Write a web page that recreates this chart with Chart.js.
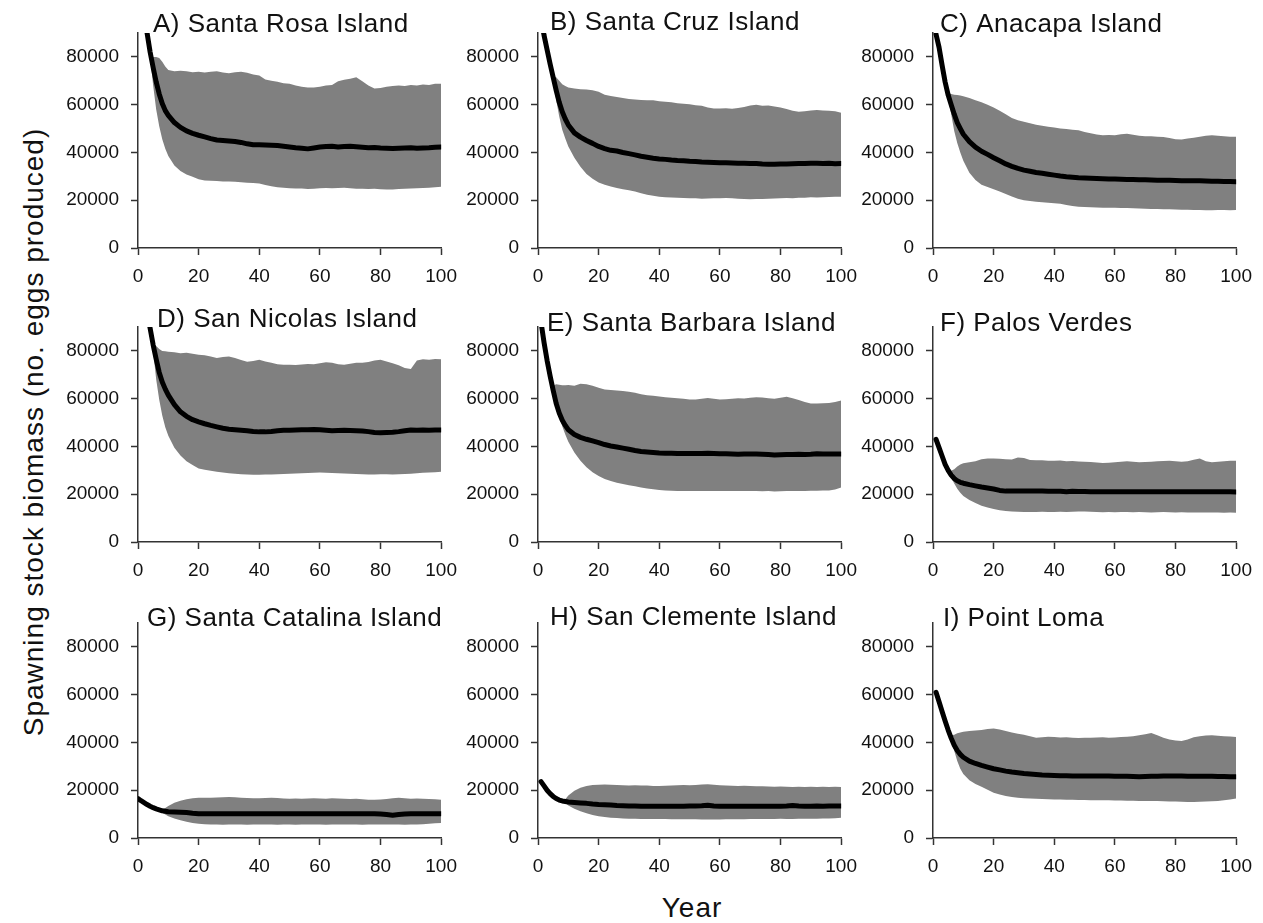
<!DOCTYPE html>
<html>
<head>
<meta charset="utf-8">
<script src="https://cdn.jsdelivr.net/npm/chart.js@4.4.0/dist/chart.umd.min.js"></script>
<style>
  body { margin: 0; background: #fff; width: 1263px; height: 923px; position: relative; overflow: hidden;
         font-family: "Liberation Sans", Arial, sans-serif; color: #111; }
  canvas { position: absolute; }
  .axis-title { position: absolute; white-space: nowrap; font-size: 28px; letter-spacing: 1px;
                transform: translate(-50%, -50%); }
  #ytitle { left: 34px; top: 432px; transform: translate(-50%, -50%) rotate(-90deg); }
  #xtitle { left: 692px; top: 908px; }
</style>
</head>
<body>
<div class="axis-title" id="ytitle">Spawning stock biomass (no. eggs produced)</div>
<div class="axis-title" id="xtitle">Year</div>
<script>
/*
 * Data (biomass in thousands of eggs)
 */
const years = [0, 1, 2, 3, 4, 5, 6, 7, 8, 9, 10,
  12, 14, 16, 18, 20, 22, 24, 26, 28, 30,
  32, 34, 36, 38, 40, 42, 44, 46, 48, 50,
  52, 54, 56, 58, 60, 62, 64, 66, 68, 70,
  72, 74, 76, 78, 80, 82, 84, 86, 88, 90,
  92, 94, 96, 98, 100];

const xTicks = [0, 20, 40, 60, 80, 100];
const yTicks = [0, 20000, 40000, 60000, 80000];

const titles = [
  "A) Santa Rosa Island", "B) Santa Cruz Island", "C) Anacapa Island",
  "D) San Nicolas Island", "E) Santa Barbara Island", "F) Palos Verdes",
  "G) Santa Catalina Island", "H) San Clemente Island", "I) Point Loma"
];

// A) Santa Rosa Island
const meanA = [null, 112, 100, 90, 82, 75.5, 69.5, 64.5, 60.5, 57.5, 55.5,
  52.5, 50.5, 49, 48, 47.2, 46.5, 45.8, 45.2, 45, 44.8,
  44.6, 44.2, 43.6, 43.2, 43.2, 43.1, 43, 42.9, 42.6, 42.3,
  42, 41.8, 41.5, 41.9, 42.3, 42.5, 42.6, 42.3, 42.5, 42.6,
  42.4, 42.2, 42, 42.1, 41.9, 41.8, 41.7, 41.8, 41.9, 42,
  41.8, 41.9, 42, 42.2, 42.3];
const upperA = [null, 112, 100, 90, 82, 80, 80, 79.5, 78, 76, 74.5,
  74, 74.2, 74, 73.6, 73.8, 73.5, 73.8, 74, 73.5, 73.2,
  73.6, 73.8, 73.4, 72.6, 72.2, 70.5, 70, 69.6, 69, 68.8,
  68, 67.5, 67.2, 67.2, 67.5, 68, 68.2, 69.8, 70.4, 70.8,
  71.5, 69.8, 68, 66.8, 67, 67.5, 67.8, 68, 67.8, 68.2,
  68, 68.4, 68.2, 68.8, 68.8];
const lowerA = [null, 112, 100, 90, 80, 68, 58, 51, 45.5, 41.5, 38.5,
  34.5, 32.2, 30.8, 29.8, 28.8, 28.3, 28.2, 28, 27.8, 27.8,
  27.7, 27.5, 27.3, 27.2, 27, 26.4, 25.8, 25.4, 25.2, 25,
  24.9, 24.9, 24.7, 24.8, 25, 25.1, 25, 25.1, 25.2, 25,
  24.8, 24.8, 24.7, 24.8, 24.6, 24.5, 24.5, 24.7, 24.8, 24.9,
  25, 25.1, 25.2, 25.4, 25.6];

// B) Santa Cruz Island
const meanB = [null, 96, 89, 83, 77, 71.5, 66, 61, 57, 54, 51.5,
  48.2, 46.4, 45, 43.8, 42.5, 41.6, 40.9, 40.6, 40, 39.5,
  39, 38.4, 38, 37.6, 37.3, 37.1, 36.8, 36.6, 36.5, 36.3,
  36.2, 36, 35.9, 35.8, 35.7, 35.7, 35.6, 35.5, 35.5, 35.4,
  35.4, 35.2, 35.1, 35.1, 35.2, 35.2, 35.3, 35.4, 35.4, 35.5,
  35.5, 35.4, 35.5, 35.3, 35.4];
const upperB = [null, 96, 89, 83, 77, 72, 71.5, 70, 68.5, 67.8, 67.2,
  66.8, 66.5, 66.3, 66, 65.4, 64.2, 63.6, 63.2, 62.8, 62.4,
  62.2, 62, 61.8, 61.8, 61.4, 61.2, 61, 60.6, 60.4, 60.2,
  59.8, 59.5, 58.8, 58.4, 58.4, 58.5, 58.3, 58.6, 59, 59.6,
  60, 59.5, 59.6, 59.2, 58.8, 58.2, 57.5, 57, 57.2, 57.6,
  57.8, 57.6, 57.5, 57.2, 56.6];
const lowerB = [null, 96, 89, 83, 77, 70, 62, 55, 49.5, 45.8, 42.5,
  37.8, 34, 31, 29, 27.4, 26.5, 25.7, 25.1, 24.6, 24.2,
  23.6, 22.9, 22.3, 21.9, 21.5, 21.2, 21.1, 21, 20.9, 20.8,
  20.8, 20.6, 20.7, 20.8, 20.8, 20.9, 20.8, 20.6, 20.5, 20.4,
  20.5, 20.5, 20.6, 20.7, 20.8, 20.9, 20.8, 21, 21, 21.2,
  21.1, 21.2, 21.3, 21.5, 21.5];

// C) Anacapa Island
const meanC = [null, 89.5, 84, 76.5, 69.5, 64, 60, 56, 52.5, 50, 47.6,
  44.5, 42.2, 40.5, 39.2, 37.8, 36.5, 35.2, 34.2, 33.3, 32.6,
  32.1, 31.6, 31.3, 30.9, 30.5, 30.1, 29.8, 29.6, 29.4, 29.3,
  29.2, 29.1, 29, 28.9, 28.9, 28.8, 28.7, 28.7, 28.6, 28.6,
  28.5, 28.4, 28.4, 28.4, 28.3, 28.2, 28.2, 28.1, 28.1, 28,
  27.9, 27.9, 27.8, 27.8, 27.7];
const upperC = [null, 89.5, 84, 76.5, 69.5, 65, 64.5, 64.2, 64, 63.8, 63.5,
  62.8, 61.8, 61, 60, 58.8, 57.5, 56, 54.4, 53.5, 52.8,
  52.2, 51.6, 51.2, 50.8, 50.4, 50, 49.8, 49.5, 49.3, 48.6,
  48, 47.5, 47.2, 47.3, 47.2, 47.6, 47.8, 47.4, 47, 46.8,
  46.8, 46.6, 46.5, 46, 45.5, 45.4, 45.8, 46.2, 46.6, 47,
  47.2, 47, 46.8, 46.6, 46.6];
const lowerC = [null, 89.5, 84, 76.5, 69.5, 62.5, 56, 49, 44, 40, 36.5,
  31.5, 28.5, 26.5, 25.5, 24.6, 23.6, 22.6, 21.6, 20.6, 20,
  19.7, 19.4, 19.1, 18.9, 18.7, 18.5, 18, 17.6, 17.3, 17.2,
  17.1, 17, 16.9, 16.8, 16.8, 16.7, 16.7, 16.6, 16.5, 16.4,
  16.3, 16.3, 16.2, 16.2, 16.1, 16, 16, 15.9, 15.9, 15.8,
  15.8, 15.9, 15.9, 15.8, 15.9];

// D) San Nicolas Island
const meanD = [null, 115, 104, 96, 89.5, 82.5, 76.5, 71, 67, 64, 61.5,
  57.5, 54.5, 52.6, 51.2, 50.3, 49.5, 48.8, 48.2, 47.6, 47.2,
  47, 46.8, 46.6, 46.3, 46.1, 46.1, 46.3, 46.6, 46.8, 46.8,
  46.9, 47, 47, 47.1, 47, 46.8, 46.6, 46.7, 46.8, 46.7,
  46.6, 46.5, 46.2, 45.8, 45.7, 45.8, 45.9, 46.2, 46.6, 46.9,
  46.8, 46.9, 46.8, 46.9, 46.9];
const upperD = [null, 115, 104, 96, 89.5, 83, 82, 80.8, 80, 79.8, 79.6,
  79.4, 79, 79.2, 78.8, 78.4, 78.2, 77.6, 77, 77.4, 77.6,
  77, 76.2, 75.5, 75.8, 76.3, 75.6, 75, 74.4, 74.2, 74.2,
  74.1, 74.3, 74.5, 74.4, 74.8, 75.2, 75, 74.4, 74.2, 74.6,
  75, 75, 75.4, 76, 76.3, 75.6, 74.8, 74, 72.8, 72.4,
  76, 76.5, 76.3, 76.6, 76.5];
const lowerD = [null, 115, 104, 96, 89.5, 80, 68, 59.5, 53, 48, 44.5,
  39.5, 36.2, 33.8, 32.2, 30.8, 30.2, 29.8, 29.4, 29.1, 28.8,
  28.6, 28.4, 28.3, 28.2, 28.2, 28.3, 28.3, 28.4, 28.5, 28.6,
  28.7, 28.8, 28.9, 29, 29.1, 29, 28.9, 28.8, 28.7, 28.6,
  28.5, 28.4, 28.3, 28.3, 28.4, 28.4, 28.3, 28.4, 28.5, 28.6,
  28.8, 29, 29.1, 29.2, 29.4];

// E) Santa Barbara Island
const meanE = [null, 92, 83.5, 76, 69.5, 63.5, 58, 54, 51, 48.8, 47,
  45, 43.8, 43, 42.3, 41.6, 40.8, 40.2, 39.8, 39.3, 38.8,
  38.3, 37.9, 37.7, 37.5, 37.3, 37.2, 37.1, 37, 37, 37,
  37, 37, 37.1, 37, 36.9, 36.9, 36.8, 36.7, 36.8, 36.8,
  36.8, 36.7, 36.6, 36.4, 36.5, 36.6, 36.6, 36.7, 36.6, 36.7,
  36.9, 36.8, 36.8, 36.8, 36.8];
const upperE = [null, 92, 83.5, 76, 69.5, 65.5, 66, 65.8, 65.6, 65.6, 65.7,
  65.4, 66.2, 66, 65.4, 64.6, 63.8, 63.6, 63.4, 63.2, 62.9,
  62.5, 61.9, 61.4, 61.2, 60.9, 60.6, 60.4, 60.2, 60, 59.7,
  59.6, 60, 60.3, 60, 59.7, 59.8, 60, 60.2, 60.1, 60.4,
  60.6, 60.5, 60.2, 60, 60.4, 60.8, 60.2, 59.4, 58.6, 58,
  58, 58.1, 58.2, 58.6, 59.2];
const lowerE = [null, 92, 83.5, 76, 69.5, 63, 57, 52.5, 48.5, 45, 42,
  37.5, 34, 31.3, 29.2, 27.6, 26.4, 25.5, 24.8, 24.3, 23.8,
  23.3, 22.8, 22.4, 22.1, 21.8, 21.6, 21.5, 21.4, 21.4, 21.4,
  21.3, 21.4, 21.4, 21.3, 21.4, 21.3, 21.4, 21.3, 21.4, 21.3,
  21.3, 21.2, 21.3, 21.1, 21.2, 21.3, 21.3, 21.4, 21.4, 21.5,
  21.5, 21.6, 21.6, 22, 22.8];

// F) Palos Verdes
const meanF = [null, 43, 39.5, 36, 32.5, 30, 28, 26.6, 25.6, 25, 24.6,
  24, 23.5, 23, 22.6, 22.2, 21.6, 21.3, 21.3, 21.3, 21.3,
  21.3, 21.3, 21.3, 21.2, 21.2, 21.2, 21, 21.2, 21.1, 21.1,
  21, 21, 21, 21, 21, 21, 21, 21, 21, 21,
  21, 21, 21, 21, 21, 21, 21, 21, 21, 21,
  21, 21, 21, 21, 20.9];
const upperF = [null, 43, 39.5, 36, 32.5, 30, 29.8, 30.5, 31.6, 32.4, 33,
  33.4, 33.8, 34.6, 35, 35, 34.8, 34.6, 34.5, 35.4, 35.2,
  34.3, 34.2, 34.2, 34, 34, 34.1, 33.8, 33.9, 33.7, 33.6,
  33.5, 33.3, 33.1, 33.2, 33.4, 33.6, 33.8, 33.6, 33.4, 33.5,
  33.6, 33.8, 33.9, 34, 33.8, 33.6, 33.8, 34.4, 35, 33.8,
  33.4, 33.6, 33.8, 34, 34];
const lowerF = [null, 43, 39.5, 36, 32.5, 29.5, 27, 24.5, 22.3, 20.6, 19.3,
  17.6, 16.3, 15.2, 14.4, 13.8, 13.3, 13, 12.8, 12.7, 12.6,
  12.6, 12.6, 12.7, 12.6, 12.6, 12.7, 12.6, 12.7, 12.8, 12.8,
  12.7, 12.6, 12.5, 12.6, 12.5, 12.6, 12.6, 12.5, 12.6, 12.5,
  12.4, 12.5, 12.6, 12.5, 12.4, 12.5, 12.4, 12.3, 12.4, 12.3,
  12.4, 12.3, 12.2, 12.3, 12.2];

// G) Santa Catalina Island
const meanG = [16.5, 15.6, 14.8, 14, 13.3, 12.7, 12.2, 11.8, 11.4, 11.2, 11,
  10.9, 10.8, 10.7, 10.4, 10.2, 10.2, 10.2, 10.2, 10.2, 10.2,
  10.2, 10.2, 10.2, 10.2, 10.2, 10.2, 10.2, 10.2, 10.2, 10.2,
  10.2, 10.2, 10.2, 10.2, 10.2, 10.2, 10.2, 10.2, 10.2, 10.2,
  10.2, 10.2, 10.2, 10.1, 10, 9.8, 9.5, 9.8, 10, 10.1,
  10.2, 10.2, 10.2, 10.2, 10.2];
const upperG = [16.5, 15.6, 14.8, 14, 13.3, 12.7, 12.2, 11.8, 11.8, 12.6, 13.4,
  14.8, 15.6, 16.2, 16.6, 16.8, 16.8, 16.9, 17, 17.1, 17.2,
  17.1, 16.9, 16.7, 16.6, 16.6, 16.7, 16.8, 16.7, 16.5, 16.4,
  16.5, 16.4, 16.5, 16.6, 16.5, 16.4, 16.6, 16.5, 16.4, 16.3,
  16.4, 16.2, 16, 16, 16.1, 16.3, 16.6, 16.8, 16.6, 16.4,
  16.5, 16.4, 16.3, 16.2, 16];
const lowerG = [16.5, 15.6, 14.8, 14, 13.3, 12.7, 12.2, 11.6, 10.6, 9.8, 9.1,
  8.2, 7.4, 6.8, 6.3, 6, 5.8, 5.7, 5.6, 5.5, 5.6,
  5.7, 5.6, 5.5, 5.6, 5.6, 5.7, 5.6, 5.5, 5.6, 5.6,
  5.5, 5.6, 5.7, 5.6, 5.6, 5.5, 5.6, 5.6, 5.7, 5.6,
  5.6, 5.5, 5.6, 5.6, 5.7, 5.6, 5.6, 5.6, 5.5, 5.6,
  5.7, 5.8, 6, 6.2, 6.3];

// H) San Clemente Island
const meanH = [null, 23.6, 21.8, 20, 18.6, 17.4, 16.5, 15.9, 15.5, 15.3, 15.1,
  14.9, 14.7, 14.5, 14.2, 14, 13.9, 13.8, 13.6, 13.5, 13.4,
  13.4, 13.3, 13.3, 13.3, 13.3, 13.3, 13.3, 13.3, 13.3, 13.4,
  13.4, 13.5, 13.7, 13.4, 13.3, 13.3, 13.3, 13.3, 13.3, 13.3,
  13.3, 13.3, 13.3, 13.3, 13.3, 13.4, 13.6, 13.4, 13.3, 13.3,
  13.4, 13.3, 13.4, 13.4, 13.4];
const upperH = [null, 23.6, 21.8, 20, 18.6, 17.4, 16.5, 15.9, 15.6, 16.2, 17.8,
  19.8, 21, 21.8, 22.2, 22.3, 22.4, 22.3, 22.2, 22.1, 22,
  22.1, 22, 22, 21.8, 21.8, 21.9, 22, 22.1, 22.2, 22.1,
  22.2, 22.4, 22.5, 22.3, 22.1, 22, 21.9, 21.8, 21.9, 21.8,
  21.7, 21.7, 21.6, 21.5, 21.6, 21.5, 21.4, 21.5, 21.4, 21.5,
  21.4, 21.5, 21.4, 21.5, 21.4];
const lowerH = [null, 23.6, 21.8, 20, 18.6, 17.4, 16.5, 15.8, 15.2, 14.6, 13.6,
  12.2, 11.2, 10.4, 9.6, 9.1, 8.8, 8.5, 8.4, 8.2, 8.1,
  8.1, 8, 8, 8, 8, 8, 7.9, 7.9, 7.8, 7.8,
  7.8, 7.7, 7.7, 7.7, 7.7, 7.8, 7.8, 7.9, 7.9, 8,
  8, 8, 8, 8, 8.1, 8, 8, 8.1, 8.1, 8.1,
  8.1, 8.2, 8.2, 8.3, 8.5];

// I) Point Loma
const meanI = [null, 61, 57, 53, 49, 45.2, 41.8, 38.8, 36.6, 35, 33.8,
  32.2, 31.2, 30.4, 29.7, 29, 28.5, 28, 27.6, 27.3, 27,
  26.8, 26.6, 26.4, 26.3, 26.2, 26.1, 26.1, 26, 26, 26,
  26, 26, 26, 26, 25.9, 25.9, 25.8, 25.7, 25.6, 25.7,
  25.8, 25.9, 26, 26, 26, 26, 25.9, 25.9, 25.8, 25.8,
  25.8, 25.7, 25.7, 25.6, 25.6];
const upperI = [null, 61, 57, 53, 49, 45.2, 43, 43.2, 43.8, 44.2, 44.5,
  44.8, 45, 45.2, 45.6, 45.8, 45.4, 44.8, 44.2, 43.6, 43.2,
  42.6, 42, 42.2, 42.4, 42.3, 42.1, 42.2, 42, 41.9, 42,
  42, 42.1, 42.2, 42, 42.1, 42.3, 42.4, 42.6, 43, 43.4,
  44, 43, 42, 41.2, 40.8, 40.6, 41.2, 42.2, 42.6, 42.9,
  43, 42.8, 42.6, 42.5, 42.3];
const lowerI = [null, 61, 57, 53, 49, 45, 41, 36.5, 32.2, 29, 26.8,
  24.2, 22.6, 21.5, 20.2, 18.9, 18.2, 17.6, 17.2, 16.9, 16.6,
  16.5, 16.4, 16.3, 16.2, 16.1, 16.1, 16, 16, 15.9, 15.9,
  15.8, 15.8, 15.8, 15.8, 15.7, 15.7, 15.6, 15.6, 15.5, 15.5,
  15.5, 15.5, 15.4, 15.3, 15.3, 15.2, 15.1, 15.1, 15.2, 15.3,
  15.4, 15.5, 15.8, 16.1, 16.5];

const panels = [
  { mean: meanA, upper: upperA, lower: lowerA },
  { mean: meanB, upper: upperB, lower: lowerB },
  { mean: meanC, upper: upperC, lower: lowerC },
  { mean: meanD, upper: upperD, lower: lowerD },
  { mean: meanE, upper: upperE, lower: lowerE },
  { mean: meanF, upper: upperF, lower: lowerF },
  { mean: meanG, upper: upperG, lower: lowerG },
  { mean: meanH, upper: upperH, lower: lowerH },
  { mean: meanI, upper: upperI, lower: lowerI }
];

/*
 * Layout: plot-area edges in page pixels
 */
const colLeft = [138, 538, 933];
const colRight = [445, 845, 1240];
const rowTop = [33, 327, 623];     // y = 90000
const rowBottom = [248, 542, 838]; // y = 0
const axisW = 98, axisH = 42, padTop = 33, padRight = 22;
const titleDx = [15, 12, 7, 19, 9, 7, 9, 12, 10];
const titleDy = [-1, -3, -1, 0, 4, 4, 3, 2, 3];

const FONT = '"Liberation Sans", Arial, sans-serif';
const INK = "#111";
const AXIS = "#333";
const BAND = "#808080";

// draws the panel letter + site name just above the plot area
const panelTitle = {
  id: "panelTitle",
  afterDraw(chart, args, opts) {
    const { ctx, chartArea } = chart;
    ctx.save();
    ctx.font = "26px " + FONT;
    if ("letterSpacing" in ctx) ctx.letterSpacing = "0.5px";
    ctx.fillStyle = INK;
    ctx.textBaseline = "alphabetic";
    ctx.textAlign = "left";
    ctx.fillText(opts.text, chartArea.left + opts.dx, chartArea.top + opts.dy);
    ctx.restore();
  }
};

const toPoints = arr => years.map((x, i) => ({ x: x, y: arr[i] == null ? null : arr[i] * 1000 }));
const plainLabel = v => String(v);

panels.forEach((p, i) => {
  const r = Math.floor(i / 3), c = i % 3;
  const canvas = document.createElement("canvas");
  const w = colRight[c] - colLeft[c] + axisW + padRight;
  const h = rowBottom[r] - rowTop[r] + padTop + axisH;
  canvas.width = w;
  canvas.height = h;
  canvas.style.left = (colLeft[c] - axisW) + "px";
  canvas.style.top = (rowTop[r] - padTop) + "px";
  canvas.style.width = w + "px";
  canvas.style.height = h + "px";
  document.body.appendChild(canvas);

  new Chart(canvas, {
    type: "line",
    data: {
      datasets: [{
        label: "mean",
        data: toPoints(p.mean),
        borderColor: "#000",
        borderWidth: 5,
        borderCapStyle: "round",
        borderJoinStyle: "round",
        pointRadius: 0,
        fill: false,
        tension: 0
      }, {
        label: "upper",
        data: toPoints(p.upper),
        borderWidth: 0,
        borderColor: BAND,
        backgroundColor: BAND,
        pointRadius: 0,
        fill: "+1",
        tension: 0
      }, {
        label: "lower",
        data: toPoints(p.lower),
        borderWidth: 0,
        borderColor: BAND,
        pointRadius: 0,
        fill: false,
        tension: 0
      }]
    },
    options: {
      responsive: false,
      animation: false,
      devicePixelRatio: 1,
      events: [],
      layout: { padding: { left: 0, top: padTop, right: padRight, bottom: 0 } },
      plugins: {
        legend: { display: false },
        tooltip: { enabled: false },
        title: { display: false },
        panelTitle: { text: titles[i], dx: titleDx[i], dy: titleDy[i] }
      },
      scales: {
        x: {
          type: "linear",
          min: xTicks[0],
          max: xTicks[xTicks.length - 1],
          afterBuildTicks: s => { s.ticks = xTicks.map(v => ({ value: v })); },
          afterFit: s => { s.height = axisH; },
          ticks: { callback: plainLabel, color: INK, font: { family: FONT, size: 19 }, padding: 10, maxRotation: 0, autoSkip: false },
          grid: { drawOnChartArea: false, tickLength: 7, tickWidth: 1.5, tickColor: AXIS },
          border: { color: AXIS, width: 1.5 }
        },
        y: {
          type: "linear",
          min: 0,
          max: 90000,
          afterBuildTicks: s => { s.ticks = yTicks.map(v => ({ value: v })); },
          afterFit: s => { s.width = axisW; },
          ticks: { callback: plainLabel, color: INK, font: { family: FONT, size: 19 }, padding: 12, autoSkip: false },
          grid: { drawOnChartArea: false, tickLength: 7, tickWidth: 1.5, tickColor: AXIS },
          border: { color: AXIS, width: 1.5 }
        }
      }
    },
    plugins: [panelTitle]
  });
});
</script>
</body>
</html>
